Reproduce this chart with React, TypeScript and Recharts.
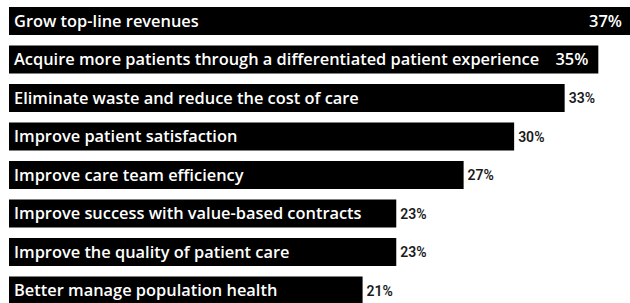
import { BarChart, Bar, XAxis, YAxis, LabelList } from 'recharts';

const categories = [
  'Grow top-line revenues',
  'Acquire more patients through a differentiated patient experience',
  'Eliminate waste and reduce the cost of care',
  'Improve patient satisfaction',
  'Improve care team efficiency',
  'Improve success with value-based contracts',
  'Improve the quality of patient care',
  'Better manage population health',
];
const values = [37, 35, 33, 30, 27, 23, 23, 21];

const data = categories.map((name, i) => ({ name, value: values[i] }));

const FONT = 'Roboto, "Liberation Sans", sans-serif';
const INNER_FONT = '"Open Sans", sans-serif';

// labels that would run past the image sit inside the bar in white
const ValueLabel = (props: any) => {
  const { x, y, width, height, value } = props;
  const inside = value >= 35;
  if (inside) {
    return (
      <text
        x={Math.min(x + width - 10, 622)}
        y={y + height / 2}
        dy="0.36em"
        textAnchor="end"
        fill="#fff"
        fontFamily={INNER_FONT}
        fontWeight={600}
        fontSize={16.4}
      >
        {value}%
      </text>
    );
  }
  return (
    <text
      x={x + width + 4}
      y={y + height / 2}
      dy="0.36em"
      fill="#1a1a1a"
      fontFamily={FONT}
      fontWeight={600}
      fontSize={14}
    >
      {value}%
    </text>
  );
};

const NameLabel = (props: any) => {
  const { x, y, height, value } = props;
  return (
    <text
      x={x + 5}
      y={y + height / 2}
      dy="0.36em"
      fill="#fff"
      fontFamily={INNER_FONT}
      fontWeight={600}
      fontSize={16.4}
    >
      {value}
    </text>
  );
};

export default function App() {
  return (
    <div style={{ position: 'absolute', left: 0, top: 0, width: 630, height: 303, overflow: 'hidden', background: '#fff' }}>
      <BarChart
        width={632}
        height={312}
        data={data}
        layout="vertical"
        margin={{ top: 2, right: 0, bottom: 2, left: 9 }}
      >
        <XAxis type="number" domain={[0, 37]} hide />
        <YAxis type="category" dataKey="name" hide />
        <Bar dataKey="value" fill="#000" barSize={28} isAnimationActive={false}>
          <LabelList dataKey="name" content={NameLabel} />
          <LabelList dataKey="value" content={ValueLabel} />
        </Bar>
      </BarChart>
    </div>
  );
}
